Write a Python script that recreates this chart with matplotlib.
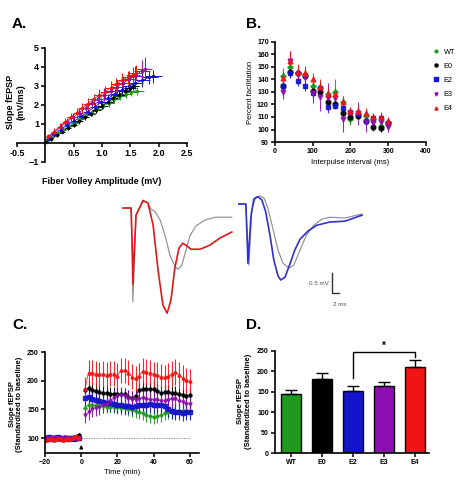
import numpy as np
import matplotlib.pyplot as plt
from matplotlib.lines import Line2D

plt.rcParams['font.family'] = ['Liberation Sans', 'DejaVu Sans']
plt.rcParams['font.weight'] = 'bold'
plt.rcParams['axes.linewidth'] = 1.2

groups = ['WT', 'E0', 'E2', 'E3', 'E4']
colors = ['#1f9a1f', '#000000', '#1414cc', '#8c10b0', '#f01414']
markers = ['P', 'o', 's', 'v', '^']

# ---- A: input/output (fiber volley vs slope)
fv = {
    'WT': [0.03, 0.12, 0.22, 0.32, 0.42, 0.52, 0.62, 0.72, 0.82, 0.92, 1.02, 1.12, 1.22, 1.32, 1.42, 1.52, 1.62],
    'E0': [0.02, 0.10, 0.20, 0.30, 0.40, 0.50, 0.60, 0.70, 0.80, 0.90, 1.00, 1.10, 1.20, 1.30, 1.40, 1.50, 1.55],
    'E2': [0.04, 0.15, 0.27, 0.39, 0.51, 0.63, 0.75, 0.87, 0.99, 1.11, 1.23, 1.35, 1.47, 1.59, 1.71, 1.83, 1.90],
    'E3': [0.05, 0.16, 0.27, 0.38, 0.49, 0.60, 0.71, 0.82, 0.93, 1.04, 1.15, 1.26, 1.37, 1.48, 1.59, 1.70, 1.75],
    'E4': [0.05, 0.15, 0.25, 0.35, 0.45, 0.55, 0.65, 0.75, 0.85, 0.95, 1.05, 1.15, 1.25, 1.35, 1.45, 1.55, 1.60],
}
fv_err = {
    'WT': [0.03, 0.04, 0.05, 0.05, 0.06, 0.06, 0.07, 0.07, 0.08, 0.08, 0.09, 0.09, 0.10, 0.10, 0.11, 0.12, 0.12],
    'E0': [0.03, 0.04, 0.04, 0.05, 0.05, 0.06, 0.06, 0.07, 0.07, 0.08, 0.08, 0.09, 0.09, 0.10, 0.10, 0.10, 0.10],
    'E2': [0.04, 0.05, 0.05, 0.06, 0.07, 0.07, 0.08, 0.09, 0.09, 0.10, 0.11, 0.12, 0.12, 0.13, 0.14, 0.15, 0.15],
    'E3': [0.04, 0.05, 0.05, 0.06, 0.06, 0.07, 0.08, 0.08, 0.09, 0.10, 0.10, 0.11, 0.12, 0.12, 0.13, 0.14, 0.14],
    'E4': [0.04, 0.05, 0.05, 0.06, 0.06, 0.07, 0.07, 0.08, 0.08, 0.09, 0.09, 0.10, 0.10, 0.11, 0.11, 0.12, 0.12],
}
slope = {
    'WT': [0.10, 0.30, 0.50, 0.70, 0.90, 1.05, 1.25, 1.45, 1.60, 1.80, 1.95, 2.10, 2.30, 2.45, 2.60, 2.70, 2.75],
    'E0': [0.05, 0.20, 0.40, 0.60, 0.80, 0.95, 1.15, 1.35, 1.55, 1.75, 1.95, 2.15, 2.35, 2.55, 2.75, 2.90, 3.00],
    'E2': [0.20, 0.45, 0.70, 0.95, 1.15, 1.40, 1.65, 1.90, 2.15, 2.35, 2.60, 2.80, 3.00, 3.15, 3.30, 3.45, 3.50],
    'E3': [0.30, 0.55, 0.85, 1.10, 1.35, 1.60, 1.85, 2.10, 2.30, 2.55, 2.75, 2.95, 3.15, 3.35, 3.55, 3.80, 3.90],
    'E4': [0.35, 0.60, 0.85, 1.10, 1.35, 1.60, 1.85, 2.05, 2.30, 2.50, 2.70, 2.90, 3.10, 3.30, 3.45, 3.60, 3.70],
}
slope_err = {
    'WT': [0.08, 0.10, 0.12, 0.12, 0.14, 0.14, 0.15, 0.16, 0.16, 0.17, 0.18, 0.18, 0.20, 0.20, 0.22, 0.22, 0.22],
    'E0': [0.06, 0.08, 0.10, 0.10, 0.12, 0.12, 0.13, 0.14, 0.14, 0.15, 0.16, 0.16, 0.18, 0.18, 0.20, 0.20, 0.20],
    'E2': [0.10, 0.12, 0.14, 0.16, 0.18, 0.20, 0.20, 0.22, 0.24, 0.25, 0.26, 0.28, 0.30, 0.32, 0.34, 0.35, 0.36],
    'E3': [0.12, 0.15, 0.18, 0.20, 0.22, 0.24, 0.26, 0.28, 0.30, 0.32, 0.34, 0.36, 0.40, 0.44, 0.48, 0.55, 0.60],
    'E4': [0.14, 0.18, 0.20, 0.22, 0.24, 0.26, 0.28, 0.30, 0.30, 0.32, 0.32, 0.34, 0.34, 0.36, 0.36, 0.38, 0.38],
}

# ---- B: paired pulse facilitation
ipi = [20, 40, 60, 80, 100, 120, 140, 160, 180, 200, 220, 240, 260, 280, 300]
ppf = {
    'WT': [143, 150, 145, 144, 135, 133, 128, 130, 122, 108, 112, 111, 108, 103, 106],
    'E0': [135, 146, 145, 143, 131, 130, 122, 120, 113, 110, 111, 107, 102, 101, 105],
    'E2': [135, 145, 139, 135, 129, 133, 118, 119, 117, 114, 112, 107, 109, 109, 105],
    'E3': [130, 155, 144, 142, 129, 126, 125, 125, 108, 113, 113, 106, 105, 106, 102],
    'E4': [141, 155, 146, 145, 140, 134, 128, 128, 122, 115, 115, 113, 110, 110, 107],
}
ppf_err = {
    'WT': [6, 5, 5, 5, 5, 5, 6, 10, 5, 4, 4, 4, 3, 3, 3],
    'E0': [4, 4, 4, 4, 4, 4, 4, 3, 4, 3, 3, 3, 3, 3, 3],
    'E2': [4, 4, 4, 4, 4, 4, 4, 3, 3, 3, 3, 3, 3, 3, 3],
    'E3': [6, 8, 6, 6, 8, 11, 12, 6, 10, 4, 9, 8, 5, 4, 4],
    'E4': [6, 8, 6, 6, 5, 6, 5, 5, 5, 3, 4, 4, 3, 4, 3],
}

# ---- middle: example traces (ms, mV)
red_t = [2.3, 4.6, 5.0, 5.1, 6.0, 8.0, 9.4, 10.9, 12.3, 13.7, 14.9, 16.0, 17.1, 18.3, 19.4, 20.6, 21.7, 24.3, 27.1, 30.0, 33.4]
red_v = [0.0, 0.0, -1.2, -1.9, -0.18, 0.18, 0.13, -0.43, -1.55, -2.43, -2.63, -2.3, -1.5, -1.0, -0.88, -0.95, -1.03, -1.03, -0.93, -0.75, -0.6]
grayl_t = [2.3, 4.6, 5.0, 5.1, 6.0, 8.0, 9.4, 10.3, 11.4, 12.9, 14.3, 15.7, 17.1, 18.0, 19.1, 20.3, 21.4, 23.1, 25.7, 28.6, 33.4]
grayl_v = [0.0, 0.0, -1.5, -2.35, -0.18, 0.2, 0.13, -0.03, -0.08, -0.3, -0.68, -1.18, -1.45, -1.53, -1.43, -1.05, -0.7, -0.45, -0.3, -0.23, -0.23]
blue_t = [35.4, 37.4, 37.8, 38.0, 38.9, 39.7, 40.9, 42.0, 43.1, 44.3, 45.4, 46.6, 47.4, 48.6, 50.0, 51.4, 52.9, 55.1, 57.7, 61.4, 65.7, 70.6]
blue_v = [0.1, 0.1, -0.8, -1.38, -0.18, 0.23, 0.28, 0.2, -0.1, -0.68, -1.3, -1.7, -1.8, -1.73, -1.4, -1.05, -0.78, -0.58, -0.43, -0.35, -0.33, -0.18]
grayr_t = [35.4, 37.4, 37.9, 38.3, 39.1, 40.3, 41.4, 42.6, 43.7, 45.1, 46.6, 48.0, 49.7, 51.1, 52.9, 54.6, 56.6, 59.1, 61.4, 65.7, 70.6]
grayr_v = [0.1, 0.1, -0.9, -1.43, -0.05, 0.28, 0.3, 0.25, 0.0, -0.5, -1.05, -1.38, -1.5, -1.43, -1.05, -0.7, -0.45, -0.28, -0.23, -0.25, -0.15]

# ---- C: LTP time course
t_base = [-20, -19, -18, -17, -16, -15, -14, -13, -12, -11, -10, -9, -8, -7, -6, -5, -4, -3, -2, -1]
t_post = [2, 4, 6, 8, 10, 12, 14, 16, 18, 20, 22, 24, 26, 28, 30, 32, 34, 36, 38, 40, 42, 44, 46, 48, 50, 52, 54, 56, 58, 60]
base = {
    'WT': [101, 99, 100, 102, 98, 100, 101, 99, 100, 101, 100, 99, 101, 100, 98, 100, 101, 102, 100, 101],
    'E0': [97, 98, 99, 100, 99, 98, 100, 99, 101, 100, 99, 98, 100, 101, 99, 100, 102, 101, 103, 106],
    'E2': [100, 101, 102, 100, 99, 101, 100, 102, 101, 100, 99, 101, 100, 99, 101, 100, 99, 100, 101, 100],
    'E3': [102, 100, 101, 99, 100, 102, 101, 100, 99, 101, 100, 102, 101, 99, 100, 101, 100, 99, 100, 101],
    'E4': [96, 97, 98, 100, 99, 97, 98, 100, 99, 98, 97, 99, 100, 98, 99, 101, 102, 103, 102, 101],
}
post = {
    'WT': [153, 158, 157, 157, 156, 156, 155, 155, 155, 154, 153, 152, 150, 149, 147, 145, 143, 140, 139, 137, 138, 140, 143, 145, 146, 147, 148, 148, 147, 147],
    'E0': [183, 188, 184, 182, 180, 179, 178, 177, 177, 177, 176, 176, 172, 170, 174, 184, 185, 186, 185, 185, 182, 179, 180, 180, 178, 178, 176, 175, 174, 175],
    'E2': [170, 172, 168, 166, 165, 163, 162, 161, 160, 158, 157, 156, 156, 155, 156, 157, 158, 158, 159, 158, 158, 157, 156, 150, 148, 146, 145, 144, 145, 145],
    'E3': [140, 145, 150, 153, 155, 157, 160, 165, 170, 173, 175, 173, 170, 168, 167, 168, 169, 168, 167, 166, 166, 165, 165, 166, 168, 168, 165, 163, 160, 160],
    'E4': [185, 214, 214, 212, 211, 212, 210, 212, 212, 209, 218, 218, 214, 207, 204, 209, 217, 215, 214, 211, 210, 207, 206, 208, 212, 215, 210, 205, 201, 199],
}
post_err = {'WT': 12, 'E0': 12, 'E2': 14, 'E3': 14, 'E4': 22}

# ---- D: mean LTP
ltp_mean = [145, 181, 151, 163, 210]
ltp_sem = [9, 15, 12, 12, 19]

fig = plt.figure(figsize=(4.66, 4.9), dpi=100)

def style(ax, fs):
    for s in ['top', 'right']:
        ax.spines[s].set_visible(False)
    ax.tick_params(direction='out', length=3, width=1.1, labelsize=fs, pad=1.5)

# A
axA = fig.add_axes([0.0365, 0.6694, 0.3648, 0.2327])
for g, c in zip(groups, colors):
    axA.errorbar(fv[g], slope[g], xerr=fv_err[g], yerr=slope_err[g], fmt='o', ms=1.5,
                 color=c, ecolor=c, elinewidth=0.7, capsize=0)
    axA.plot(fv[g], slope[g], color=c, lw=0.6)
axA.set_xlim(-0.5, 2.5)
axA.set_ylim(-1, 5)
axA.spines['left'].set_position(('data', 0))
axA.spines['bottom'].set_position(('data', 0))
style(axA, 6.5)
axA.set_xticks([-0.5, 0.5, 1.0, 1.5, 2.0, 2.5])
axA.set_xticklabels(['-0.5', '0.5', '1.0', '1.5', '2.0', '2.5'])
axA.set_yticks([-1, 1, 2, 3, 4, 5])
fig.text(102 / 466, 1 - 181 / 490, 'Fiber Volley Amplitude (mV)', ha='center', va='center', fontsize=6.5)
fig.text(16 / 466, 1 - 102 / 490, 'Slope fEPSP\n(mV/ms)', ha='center', va='center', rotation=90, fontsize=6.5)
fig.text(12 / 466, 1 - 24 / 490, 'A.', fontsize=11, va='center')

# B
axB = fig.add_axes([0.5901, 0.7102, 0.3240, 0.2041])
for g, c, m in zip(groups, colors, markers):
    axB.errorbar(ipi, ppf[g], yerr=ppf_err[g], fmt=m, ms=3.4, color=c, ecolor=c,
                 elinewidth=0.8, capsize=0, alpha=0.9)
axB.set_xlim(0, 400)
axB.set_ylim(90, 170)
axB.set_xticks([0, 100, 200, 300, 400])
axB.set_yticks(range(90, 171, 10))
style(axB, 5)
axB.set_xlabel('Interpulse interval (ms)', fontsize=5.5, labelpad=3)
axB.set_ylabel('Percent facilitation', fontsize=5.5, labelpad=2)
handles = [Line2D([], [], ls='none', marker=m, color=c, ms=2.2) for c, m in zip(colors, markers)]
axB.legend(handles, groups, loc='upper left', bbox_to_anchor=(1.0, 1.0), frameon=False,
           handletextpad=0.5, labelspacing=0.95, handlelength=1.0,
           prop={'weight': 'normal', 'size': 5.3})
fig.text(246 / 466, 1 - 24 / 490, 'B.', fontsize=11, va='center')

# traces
axT = fig.add_axes([0.2468, 0.3469, 0.5472, 0.2653])
axT.plot(grayl_t, grayl_v, color='#8a8a8a', lw=0.8)
axT.plot(red_t, red_v, color='#e01818', lw=1.2)
axT.plot(grayr_t, grayr_v, color='#8a8a8a', lw=0.8)
axT.plot(blue_t, blue_v, color='#3030d0', lw=1.2)
axT.plot([62, 62, 64], [-1.63, -2.13, -2.13], color='#333333', lw=1.0)
axT.text(61, -1.88, '0.5 mV', fontsize=4.5, ha='right', va='center', color='#555555', fontweight='normal')
axT.text(64.3, -2.4, '2 ms', fontsize=4.5, ha='center', va='center', color='#555555', fontweight='normal')
axT.set_xlim(0, 72.9)
axT.set_ylim(-2.8, 0.45)
axT.axis('off')

# C
axC = fig.add_axes([0.0966, 0.0755, 0.3305, 0.2061])
axC.axhline(100, xmin=(0 + 20) / 85, xmax=(60 + 20) / 85, color='#777777', lw=0.6, ls=(0, (1.5, 1.5)))
for g, c, m in zip(groups, colors, markers):
    axC.errorbar(t_base, base[g], yerr=2, fmt=m, ms=2.2, color=c, ecolor=c, elinewidth=0.6, capsize=0)
    axC.errorbar(t_post, post[g], yerr=post_err[g], fmt=m, ms=2.2, color=c, ecolor=c,
                 elinewidth=0.8, capsize=0, alpha=0.9)
    axC.plot(t_post, post[g], color=c, lw=0.5)
axC.annotate('', xy=(0, 93), xytext=(0, 76),
             arrowprops=dict(arrowstyle='-|>', color='black', lw=0.8, mutation_scale=5))
axC.set_xlim(-20, 65)
axC.set_ylim(74, 250)
axC.set_xticks([-20, 0, 20, 40, 60])
axC.set_yticks([100, 150, 200, 250])
style(axC, 5)
axC.set_xlabel('Time (min)', fontsize=5.5, labelpad=2)
fig.text(16 / 466, 1 - 404 / 490, 'Slope fEPSP\n(Standardized to baseline)', ha='center', va='center',
         rotation=90, fontsize=5.5)
fig.text(12 / 466, 1 - 325 / 490, 'C.', fontsize=11, va='center')

# D
axD = fig.add_axes([0.5901, 0.0755, 0.3305, 0.2082])
xpos = np.arange(len(groups))
axD.bar(xpos, ltp_mean, width=0.65, color=colors, edgecolor='black', linewidth=1.0)
axD.errorbar(xpos, ltp_mean, yerr=[[0] * 5, ltp_sem], fmt='none', ecolor='black',
             elinewidth=1.0, capsize=4, capthick=1.0)
axD.plot([2, 2, 4, 4], [184, 247, 247, 235], color='black', lw=1.0, clip_on=False)
axD.text(3, 262, '*', ha='center', va='center', fontsize=7, clip_on=False)
axD.set_xlim(-0.52, 4.45)
axD.set_ylim(0, 250)
axD.set_xticks(xpos)
axD.set_xticklabels(groups)
axD.set_yticks([0, 50, 100, 150, 200, 250])
style(axD, 5)
fig.text(244 / 466, 1 - 401 / 490, 'Slope fEPSP\n(Standardized to baseline)', ha='center', va='center',
         rotation=90, fontsize=5.5)
fig.text(246 / 466, 1 - 325 / 490, 'D.', fontsize=11, va='center')

fig.savefig('out.png', dpi=100)
